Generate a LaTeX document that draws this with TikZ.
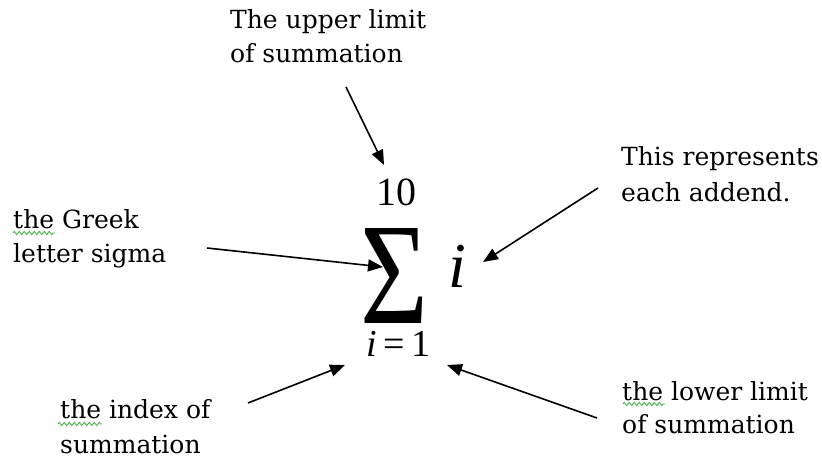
\documentclass[tikz,border=0pt]{standalone}
\usepackage{fontspec}
\setmainfont{DejaVu Serif}
\newfontfamily\timesfont{Liberation Serif}
\usetikzlibrary{arrows.meta,decorations.pathmorphing}
\definecolor{spellgreen}{RGB}{70,180,70}
\tikzset{
  lbl/.style={anchor=base west,inner sep=0pt,font=\fontsize{25}{30}\selectfont},
  arr/.style={line width=1.6pt,-{Triangle[length=15pt,width=12pt]}},
  squig/.style={spellgreen,line width=0.9pt,decorate,decoration={zigzag,amplitude=1.6pt,segment length=5pt}},
  mathtxt/.style={inner sep=0pt,text depth=0pt}
}
\begin{document}
\begin{tikzpicture}[x=1pt,y=-1pt]
\useasboundingbox (0,0) rectangle (822,463);
% labels
\node[lbl] (up1) at (230,28) {The upper limit};
\node[lbl] (up2) at (230,62) {of summation};
\node[lbl] (gr1) at (13,228) {the Greek};
\node[lbl] (gr2) at (13,262) {letter sigma};
\node[lbl] (ad1) at (621,165) {This represents};
\node[lbl] (ad2) at (621,201) {each addend.};
\node[lbl] (ix1) at (60,418) {the index of};
\node[lbl] (ix2) at (60,453) {summation};
\node[lbl] (lo1) at (622,400) {the lower limit};
\node[lbl] (lo2) at (622,433) {of summation};
% spell-check marks
\draw[squig] (13,233) -- (55,233);
\draw[squig] (58,424) -- (102,424);
\draw[squig] (623,404) -- (665,404);
% formula
\node[inner sep=0pt] (sigma) at (394,276) {\resizebox*{68pt}{95pt}{\timesfont Σ}};
\node[mathtxt,anchor=base,font=\timesfont\fontsize{40}{40}\selectfont] (ten) at (396.5,205) {10};
\node[mathtxt,text height=27pt,anchor=base,font=\timesfont\fontsize{38}{38}\selectfont] (low) at (398.5,356) {\itshape i\upshape\,=\,1};
\node[mathtxt,anchor=base west,font=\timesfont\itshape\fontsize{64}{64}\selectfont] (addend) at (448,287) {i};
% arrow ends
\coordinate (a1s) at (346,87);  \coordinate (a1e) at (384,165);
\coordinate (a2s) at (207,248); \coordinate (a2e) at (383,267);
\coordinate (a3s) at (598,188); \coordinate (a3e) at (483,262);
\coordinate (a4s) at (248,403); \coordinate (a4e) at (345,365);
\coordinate (a5s) at (597,418); \coordinate (a5e) at (447,365);
\draw[arr] (a1s) -- (a1e);
\draw[arr] (a2s) -- (a2e);
\draw[arr] (a3s) -- (a3e);
\draw[arr] (a4s) -- (a4e);
\draw[arr] (a5s) -- (a5e);
\end{tikzpicture}
\end{document}
